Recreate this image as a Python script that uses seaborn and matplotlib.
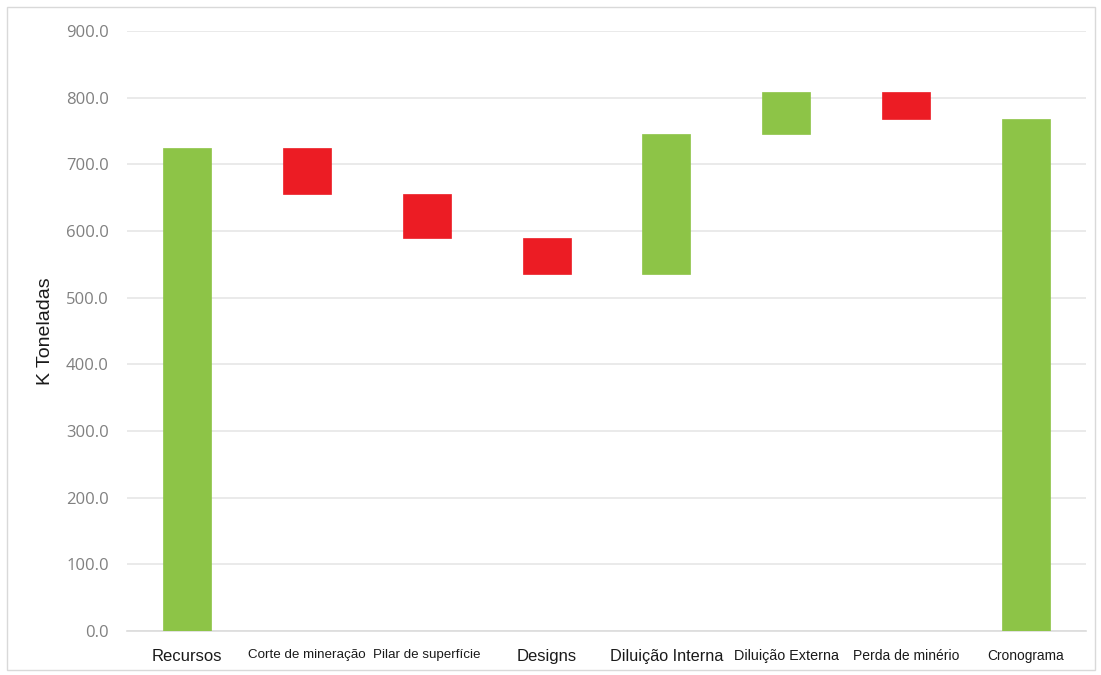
import numpy as np
import pandas as pd
import seaborn as sns
import matplotlib.pyplot as plt
from matplotlib.patches import Rectangle

# waterfall data (K toneladas)
categories = ["Recursos", "Corte de mineração", "Pilar de superfície", "Designs",
              "Diluição Interna", "Diluição Externa", "Perda de minério", "Cronograma"]
changes = [725, -70, -65, -55, 210, 63, -40, 768]
is_total = [True, False, False, False, False, False, False, True]
label_sizes = [12, 9.6, 9.6, 12, 11.7, 10.4, 10, 9.9]

green = "#8DC447"
red = "#EC1C24"

# running level -> base and height of each floating bar
bases, heights, colors = [], [], []
level = 0
for val, total in zip(changes, is_total):
    if total:
        bases.append(0)
        heights.append(val)
        colors.append(green)
        level = val
    else:
        start = level
        level = level + val
        bases.append(min(start, level))
        heights.append(abs(val))
        colors.append(green if val > 0 else red)

df = pd.DataFrame({"etapa": categories, "altura": heights, "base": bases})

sns.set_style("white")
plt.rcParams['font.family'] = ['Liberation Sans', 'DejaVu Sans']

fig = plt.figure(figsize=(11.01, 6.75), dpi=100)
ax = fig.add_axes([0.1153, 0.0652, 0.8711, 0.8889])

sns.barplot(data=df, x="etapa", y="altura", bottom=df["base"].values,
            color=green, width=0.4, saturation=1, ax=ax, zorder=3)
for patch, c in zip(ax.patches, colors):
    patch.set_facecolor(c)
    patch.set_edgecolor(c)
    patch.set_linewidth(0.5)

ax.set_ylim(0, 900)
ax.set_xlim(-0.5, len(categories) - 0.5)
ax.set_yticks(np.arange(0, 901, 100))
ax.set_yticklabels([f"{v:.1f}" for v in np.arange(0, 901, 100)],
                   fontsize=12, color="#808080", family=['Open Sans', 'DejaVu Sans'])
ax.yaxis.grid(True, color="#e6e6e6", linewidth=1.2, zorder=0)
ax.set_axisbelow(True)

ax.set_xlabel("")
ax.set_ylabel("K Toneladas", fontsize=14, color="#1a1a1a", labelpad=9)
ax.tick_params(axis="both", length=0)
ax.tick_params(axis="x", pad=13)
ax.tick_params(axis="y", pad=13)
for lab, s in zip(ax.get_xticklabels(), label_sizes):
    lab.set_fontsize(s)
    lab.set_color("#1a1a1a")

for side in ["top", "right", "left"]:
    ax.spines[side].set_visible(False)
ax.spines["bottom"].set_color("#dcdcdc")
ax.spines["bottom"].set_linewidth(1.2)

# light frame around the whole chart
W, H = 1101, 675
fig.patches.append(Rectangle((7 / W, 1 - 670 / H), (1095 - 7) / W, (670 - 7) / H,
                             transform=fig.transFigure, fill=False,
                             edgecolor="#d9d9d9", linewidth=1))

fig.savefig("out.png", dpi=100)
